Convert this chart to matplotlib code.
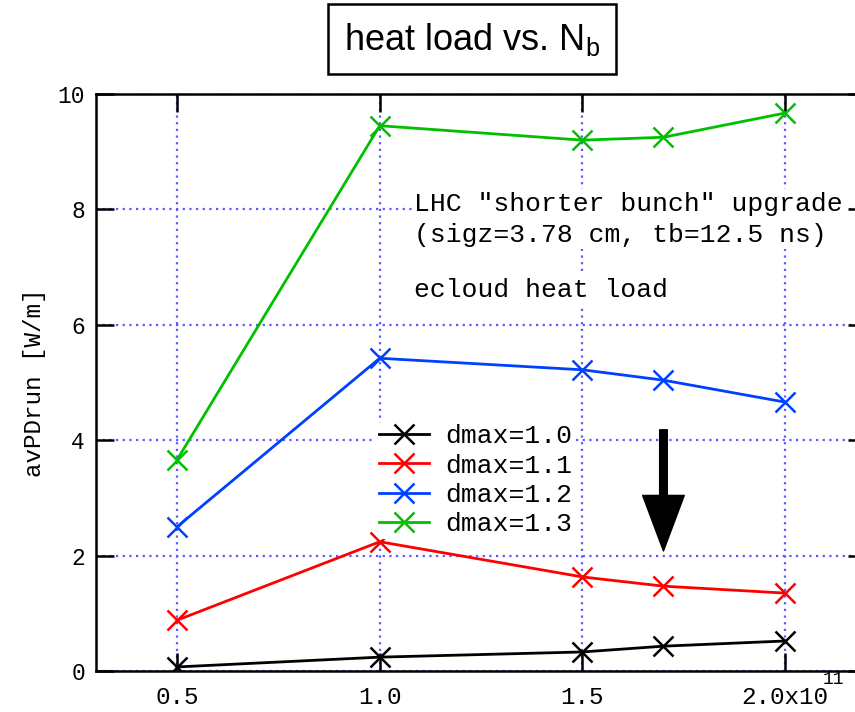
import matplotlib.pyplot as plt

# bunch population (x 1e11) and heat load per dmax
nb = [0.5, 1.0, 1.5, 1.7, 2.0]
heat_10 = [0.07, 0.24, 0.33, 0.43, 0.52]
heat_11 = [0.88, 2.24, 1.63, 1.47, 1.35]
heat_12 = [2.50, 5.42, 5.22, 5.04, 4.66]
heat_13 = [3.66, 9.45, 9.20, 9.25, 9.67]
labels = ['dmax=1.0', 'dmax=1.1', 'dmax=1.2', 'dmax=1.3']
colors = ['black', '#ff0000', '#0040ff', '#00c000']
xticks = [0.5, 1.0, 1.5, 2.0]
xticklabels = ['0.5', '1.0', '1.5', '2.0x10']
yticks = [0, 2, 4, 6, 8, 10]
yticklabels = ['0', '2', '4', '6', '8', '10']

mono = 'Liberation Mono'
plt.rcParams['font.family'] = mono

fig = plt.figure(figsize=(8.55, 7.12), dpi=100)
ax1 = fig.add_axes([0.1123, 0.0576, 0.9007, 0.8104])

ax1.set_xlim(0.3, 2.2)
ax1.set_ylim(0, 10)
ax1.set_xticks(xticks)
ax1.set_xticklabels(xticklabels, fontsize=17.5)
ax1.set_yticks(yticks)
ax1.set_yticklabels(yticklabels, fontsize=16.5)
ax1.tick_params(direction='in', length=13, width=1.8, top=True, right=True)
ax1.tick_params(axis='x', pad=11)
ax1.tick_params(axis='y', pad=8)
for sp in ax1.spines.values():
    sp.set_linewidth(1.8)

ax1.grid(True, color='#5a5aff', linestyle=(0, (1, 2)), linewidth=1.6)
ax1.set_axisbelow(True)

for y, c, lab in zip([heat_10, heat_11, heat_12, heat_13], colors, labels):
    ax1.plot(nb, y, color=c, lw=2.0, marker='x', markersize=14,
             markeredgewidth=1.8, label=lab, zorder=3)

ax1.set_ylabel('avPDrun [W/m]', fontsize=17.5, labelpad=8)

leg = ax1.legend(loc='upper left', bbox_to_anchor=(0.347, 0.455),
                 prop={'family': mono, 'size': 19}, frameon=True,
                 handlelength=1.9, labelspacing=0.2, borderpad=0.1,
                 handletextpad=0.6)
leg.get_frame().set_edgecolor('none')
leg.get_frame().set_facecolor('white')
leg.get_frame().set_alpha(1)

xtxt = 0.3 + (415 - 96) / 406
ax1.text(xtxt, 7.83,
         'LHC "shorter bunch" upgrade\n(sigz=3.78 cm, tb=12.5 ns)',
         fontsize=19, va='center', ha='left',
         linespacing=1.35, zorder=4,
         bbox=dict(facecolor='white', edgecolor='none', pad=2))
ax1.text(xtxt, 6.6, 'ecloud heat load',
         fontsize=19, va='center', ha='left', zorder=4,
         bbox=dict(facecolor='white', edgecolor='none', pad=2))

# downward arrow
ax1.annotate('', xy=(1.7, 2.08), xytext=(1.7, 4.18),
             arrowprops=dict(facecolor='black', edgecolor='black',
                             width=5.5, headwidth=30, headlength=40),
             zorder=5)

# exponent of the last x tick label
fig.text(0.9743, 0.0455, '11', fontsize=13, ha='center', va='center')

fig.text(0.552, 0.945, 'heat load vs. N$_\\mathregular{b}$',
         family='Liberation Sans', fontsize=26, ha='center', va='center',
         bbox=dict(facecolor='white', edgecolor='black', linewidth=1.8,
                   boxstyle='square,pad=0.45'))

fig.savefig('out.png', dpi=100)
